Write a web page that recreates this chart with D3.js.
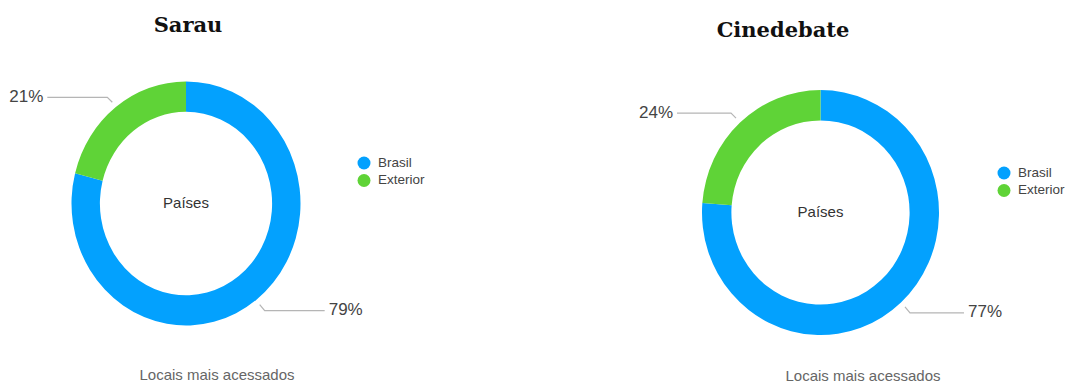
<!DOCTYPE html>
<html>
<head>
<meta charset="utf-8">
<script src="https://cdn.jsdelivr.net/npm/d3@7"></script>
<style>
  body { margin: 0; background: #fff; }
  svg { display: block; }
</style>
</head>
<body>
<svg id="chart"></svg>
<script>
"use strict";

// data
const categories = ["Brasil", "Exterior"];
const titles = ["Sarau", "Cinedebate"];
const sarauValues = [79, 21];
const cinedebateValues = [77, 24];
const centerLabel = "Países";
const subtitle = "Locais mais acessados";

const colors = d3.scaleOrdinal()
  .domain(categories)
  .range(["#03a1fe", "#5fd337"]);

// layout for each panel (the reference is slightly stretched vertically)
const panels = [
  { title: titles[0], values: sarauValues, cx: 186, cy: 203.5, rx: 114.5, ry: 122,
    titleX: 188, titleY: 32, legendX: 364, legendY: 163, subX: 217, subY: 380, lineLen: 60 },
  { title: titles[1], values: cinedebateValues, cx: 820.5, cy: 212.5, rx: 118.5, ry: 122.5,
    titleX: 783, titleY: 37, legendX: 1004, legendY: 173, subX: 863, subY: 381, lineLen: 54 }
];

const svg = d3.select("#chart")
  .attr("width", 1089)
  .attr("height", 385);

const pie = d3.pie().sort(null).value(d => d.value);

panels.forEach(function(p) {
  let data = categories.map((c, i) => ({ name: c, value: p.values[i] }));
  let arcs = pie(data);

  let arc = d3.arc()
    .innerRadius(p.rx * 0.752)
    .outerRadius(p.rx);

  let g = svg.append("g")
    .attr("transform", "translate(" + p.cx + "," + p.cy + ") scale(1," + (p.ry / p.rx) + ")");

  g.selectAll("path")
    .data(arcs)
    .enter().append("path")
    .attr("d", arc)
    .attr("fill", d => colors(d.data.name));

  // title
  svg.append("text")
    .attr("x", p.titleX)
    .attr("y", p.titleY)
    .attr("text-anchor", "middle")
    .attr("font-family", "'DejaVu Serif', serif")
    .attr("font-weight", "bold")
    .attr("font-size", 21)
    .attr("fill", "#111")
    .text(p.title);

  // center label
  svg.append("text")
    .attr("x", p.cx)
    .attr("y", p.cy + 1)
    .attr("text-anchor", "middle")
    .attr("dominant-baseline", "middle")
    .attr("font-family", "'Liberation Sans', Arial, sans-serif")
    .attr("font-size", 15)
    .attr("fill", "#333")
    .text(centerLabel);

  // leader lines and percent labels
  _labels(p, arcs);

  // legend
  let lg = svg.append("g")
    .attr("transform", "translate(" + p.legendX + "," + p.legendY + ")");
  categories.forEach(function(c, i) {
    lg.append("circle")
      .attr("cx", 0)
      .attr("cy", i * 17.5)
      .attr("r", 6.5)
      .attr("fill", colors(c));
    lg.append("text")
      .attr("x", 14)
      .attr("y", i * 17.5)
      .attr("dominant-baseline", "middle")
      .attr("font-family", "'Liberation Sans', Arial, sans-serif")
      .attr("font-size", 13.5)
      .attr("fill", "#444")
      .text(c);
  });

  // subtitle
  svg.append("text")
    .attr("x", p.subX)
    .attr("y", p.subY)
    .attr("text-anchor", "middle")
    .attr("font-family", "'Liberation Sans', Arial, sans-serif")
    .attr("font-size", 15)
    .attr("fill", "#666")
    .text(subtitle);
});

function _labels(p, arcs) {
  arcs.forEach(function(a) {
    let mid = (a.startAngle + a.endAngle) / 2;
    let sx = p.cx + p.rx * 1.05 * Math.sin(mid);
    let sy = p.cy - p.ry * 1.05 * Math.cos(mid);
    let dir = Math.sin(mid) >= 0 ? 1 : -1;
    let dy = Math.cos(mid) >= 0 ? -5 : 6;
    let ex = sx + dir * 5;
    let ey = sy + dy;
    let lx = ex + dir * p.lineLen;

    svg.append("polyline")
      .attr("points", [[sx, sy], [ex, ey], [lx, ey]].map(d => d.join(",")).join(" "))
      .attr("fill", "none")
      .attr("stroke", "#b5b5b5")
      .attr("stroke-width", 1.2);

    svg.append("text")
      .attr("x", lx + dir * 4)
      .attr("y", ey)
      .attr("text-anchor", dir > 0 ? "start" : "end")
      .attr("dominant-baseline", "middle")
      .attr("font-family", "'Liberation Sans', Arial, sans-serif")
      .attr("font-size", 17)
      .attr("fill", "#444")
      .text(a.data.value + "%");
  });
}
</script>
</body>
</html>
